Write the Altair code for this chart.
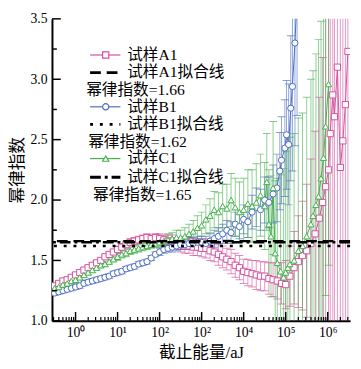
import altair as alt
import pandas as pd

# ---------------- data (log10 of cut-off energy in aJ, exponent, error) ----------------
a1_logE = [-0.5,-0.4,-0.3,-0.2,-0.1,0.0,0.1,0.2,0.3,0.4,0.5,0.6,0.7,0.8,0.9,
           1.0,1.1,1.2,1.3,1.4,1.5,1.6,1.7,1.8,1.9,
           2.0,2.1,2.2,2.3,2.4,2.5,2.6,2.7,2.8,2.9,
           3.0,3.1,3.2,3.3,3.4,3.5,3.6,3.7,3.8,3.9,
           4.0,4.1,4.2,4.3,4.4,4.5,4.6,4.7,4.8,4.9,
           5.0,5.1,5.2,5.3,5.4,5.5,5.6,5.7,5.8,
           5.88,5.95,6.02,6.06,6.12,6.16,6.23,6.30,6.36,6.42,6.48]
a1_val = [1.29,1.31,1.33,1.34,1.36,1.38,1.40,1.42,1.44,1.46,1.48,1.50,1.53,1.55,1.57,
          1.59,1.61,1.63,1.65,1.66,1.67,1.68,1.69,1.68,1.69,
          1.68,1.67,1.66,1.66,1.64,1.63,1.62,1.62,1.61,1.61,
          1.60,1.60,1.58,1.57,1.55,1.53,1.51,1.49,1.46,1.44,
          1.41,1.40,1.39,1.38,1.37,1.37,1.35,1.34,1.33,1.31,
          1.30,1.37,1.44,1.49,1.54,1.58,1.64,1.72,1.85,
          1.98,2.11,2.25,2.55,2.87,2.69,3.10,2.27,2.49,2.79,3.23]
a1_err = [0.02]*15 + [0.03]*10 + \
         [0.04,0.04,0.05,0.05,0.05,0.06,0.06,0.06,0.07,0.07] + \
         [0.07,0.08,0.08,0.08,0.09,0.09,0.09,0.10,0.10,0.10] + \
         [0.10,0.11,0.11,0.12,0.12,0.12,0.13,0.14,0.15,0.17] + \
         [0.20,0.25,0.30,0.38,0.45,0.55,0.70,0.85,1.00] + \
         [1.2,1.5,1.8,2.0,2.2,2.4,2.6,2.8,3.0,3.0,3.0]

b1_logE = [-0.5,-0.4,-0.3,-0.2,-0.1,0.0,0.1,0.2,0.3,0.4,0.5,0.6,0.7,0.8,0.9,
           1.0,1.1,1.2,1.3,1.4,1.5,1.6,1.7,1.8,1.9,
           2.0,2.1,2.2,2.3,2.4,2.5,2.6,2.7,2.8,2.9,
           3.0,3.1,3.2,3.3,3.4,3.5,3.6,3.7,3.8,3.9,
           4.0,4.1,4.2,4.3,4.4,4.5,4.6,4.7,
           4.79,4.86,4.90,4.98,5.02,5.07,5.12,5.16,5.22,5.27]
b1_val = [1.23,1.24,1.25,1.26,1.27,1.28,1.29,1.31,1.32,1.33,1.34,1.35,1.36,1.37,1.39,
          1.40,1.41,1.43,1.44,1.45,1.47,1.48,1.49,1.52,1.55,
          1.57,1.59,1.60,1.61,1.62,1.63,1.63,1.64,1.64,1.65,
          1.65,1.64,1.66,1.68,1.70,1.72,1.75,1.73,1.80,1.78,
          1.84,1.82,1.90,1.94,1.92,2.00,1.98,2.05,
          2.10,2.24,2.33,2.43,2.54,2.46,2.76,2.94,3.30,3.70]
b1_err = [0.02]*25 + \
         [0.03,0.03,0.03,0.04,0.04,0.04,0.04,0.05,0.05,0.05] + \
         [0.05,0.06,0.06,0.07,0.07,0.08,0.08,0.09,0.10,0.10] + \
         [0.12,0.13,0.14,0.16,0.17,0.19,0.21,0.24] + \
         [0.28,0.32,0.36,0.40,0.45,0.50,0.60,0.70,0.85,1.00]

c1_logE = [-0.5,-0.4,-0.3,-0.2,-0.1,0.0,0.1,0.2,0.3,0.4,0.5,0.6,0.7,0.8,0.9,
           1.0,1.1,1.2,1.3,1.4,1.5,1.6,1.7,1.8,1.9,
           2.0,2.1,2.2,2.3,2.4,2.5,2.6,2.7,2.8,2.9,
           3.0,3.1,3.2,3.3,3.4,3.5,3.6,3.7,3.8,3.9,
           4.0,4.1,4.2,4.3,4.4,4.5,
           4.55,4.60,4.65,4.70,4.75,4.80,4.88,4.95,5.00,5.05,5.10,5.20,5.30,5.40,
           5.50,5.60,5.65,5.72,5.78,5.84,5.90,5.95,6.02]
c1_val = [1.27,1.28,1.30,1.31,1.33,1.34,1.36,1.38,1.40,1.42,1.44,1.46,1.47,1.49,1.51,
          1.53,1.55,1.56,1.58,1.59,1.60,1.61,1.62,1.63,1.64,
          1.65,1.66,1.67,1.68,1.69,1.69,1.70,1.72,1.74,1.77,
          1.79,1.84,1.87,1.92,1.90,1.95,1.93,2.00,1.94,1.90,
          1.92,1.97,1.95,1.98,2.04,1.95,
          2.15,1.80,1.70,2.10,1.56,1.48,1.41,1.36,1.40,1.44,1.47,1.50,1.58,1.62,
          1.70,1.80,1.87,1.96,2.03,2.18,2.35,2.61,2.96]
c1_err = [0.02]*15 + [0.03]*10 + \
         [0.04,0.04,0.05,0.05,0.06,0.06,0.07,0.08,0.09,0.10] + \
         [0.11,0.12,0.14,0.15,0.16,0.18,0.20,0.22,0.24,0.25] + \
         [0.26,0.28,0.30,0.32,0.34,0.36] + \
         [0.40,0.45,0.50,0.55,0.60,0.70,0.80,0.90,1.00,1.00,1.05,1.05,1.10,1.10,
          1.15,1.20,1.20,1.25,1.30,1.30,1.35,1.40,1.50]

series_names = ["试样A1", "试样B1", "试样C1"]
series_colors = ["#d4509e", "#4a6cc0", "#45b04c"]
series_shapes = ["square", "circle", "triangle-up"]
fit_names = ["试样A1拟合线", "试样B1拟合线", "试样C1拟合线"]
fit_values = [1.66, 1.62, 1.65]
fit_texts = ["幂律指数=1.66", "幂律指数=1.62", "幂律指数=1.65"]
fit_dashes = [[11, 6], [3, 7], [11, 4, 3, 4]]

x_tick_labels = ["10⁰", "10¹", "10²", "10²", "10⁴", "10⁵", "10⁶"]
y_tick_values = [1.0, 1.5, 2.0, 2.5, 3.0, 3.5]
y_minor_values = [1.25, 1.75, 2.25, 2.75, 3.25]

# ---------------- build table ----------------
rows = []
for name, lx, vals, errs in zip(series_names,
                                [a1_logE, b1_logE, c1_logE],
                                [a1_val, b1_val, c1_val],
                                [a1_err, b1_err, c1_err]):
    for a, v, e in zip(lx, vals, errs):
        rows.append({"series": name, "E": 10 ** a, "idx": v, "lo": v - e, "hi": v + e})
df = pd.DataFrame(rows)

W, H = 305, 309
FONT = "Liberation Serif, Noto Sans CJK SC, serif"

xscale = alt.Scale(type="log", domain=[0.275, 3.4e6])
yscale = alt.Scale(domain=[1.0, 3.5], zero=False, nice=False)

label_arr = "[" + ",".join("'" + s + "'" for s in x_tick_labels) + "]"
xaxis = alt.Axis(values=[1, 10, 100, 1000, 10000, 100000, 1000000],
                 labelExpr=label_arr + "[round(log(datum.value)/LN10)]",
                 ticks=False, grid=False, domainColor="black", domainWidth=2,
                 labelFont=FONT, labelFontSize=14, labelColor="black", labelPadding=5,
                 title="截止能量/aJ", titleFont=FONT, titleFontSize=17,
                 titleFontWeight="normal", titleColor="black", titlePadding=6)
yaxis = alt.Axis(values=y_tick_values, format=".1f", ticks=False, grid=False,
                 domainColor="black", domainWidth=2,
                 labelFont=FONT, labelFontSize=14, labelColor="black", labelPadding=5,
                 title="幂律指数", titleFont=FONT, titleFontSize=17,
                 titleFontWeight="normal", titleColor="black", titlePadding=4)

color = alt.Color("series:N", scale=alt.Scale(domain=series_names, range=series_colors), legend=None)
X = alt.X("E:Q", scale=xscale, axis=xaxis)

base = alt.Chart(df)
err_rules = base.mark_rule(strokeWidth=1, opacity=0.6, clip=True).encode(
    x=X, y=alt.Y("lo:Q", scale=yscale, axis=yaxis), y2="hi:Q", color=color)
cap_lo = base.mark_tick(orient="horizontal", size=8, thickness=1, opacity=0.65, clip=True).encode(
    x=X, y=alt.Y("lo:Q", scale=yscale, axis=yaxis), color=color)
cap_hi = base.mark_tick(orient="horizontal", size=8, thickness=1, opacity=0.65, clip=True).encode(
    x=X, y=alt.Y("hi:Q", scale=yscale, axis=yaxis), color=color)
lines = base.mark_line(strokeWidth=1, clip=True).encode(
    x=X, y=alt.Y("idx:Q", scale=yscale, axis=yaxis), color=color, detail="series:N")
points = base.mark_point(filled=False, fill="white", fillOpacity=1, strokeWidth=1,
                         size=40, clip=True).encode(
    x=X, y=alt.Y("idx:Q", scale=yscale, axis=yaxis), color=color,
    shape=alt.Shape("series:N", scale=alt.Scale(domain=series_names, range=series_shapes), legend=None))

layers = [err_rules, cap_lo, cap_hi, lines, points]

# fitted lines
for v, d in zip(fit_values, fit_dashes):
    layers.append(alt.Chart(pd.DataFrame({"v": [v]})).mark_rule(
        color="black", strokeWidth=2.5, strokeDash=d).encode(
        y=alt.Y("v:Q", scale=yscale, axis=yaxis)))

# inward axis ticks
x_major = [10.0 ** k for k in range(0, 7)]
x_minor = [m * 10.0 ** k for k in range(-1, 7) for m in range(2, 10)
           if 0.275 <= m * 10.0 ** k <= 3.4e6]
layers.append(alt.Chart(pd.DataFrame({"E": x_major})).mark_rule(color="black", strokeWidth=1.5).encode(
    x=alt.X("E:Q", scale=xscale, axis=xaxis), y=alt.value(H), y2=alt.value(H - 9)))
layers.append(alt.Chart(pd.DataFrame({"E": x_minor})).mark_rule(color="black", strokeWidth=1.2).encode(
    x=alt.X("E:Q", scale=xscale, axis=xaxis), y=alt.value(H), y2=alt.value(H - 4)))
layers.append(alt.Chart(pd.DataFrame({"v": y_tick_values})).mark_rule(color="black", strokeWidth=1.5).encode(
    y=alt.Y("v:Q", scale=yscale, axis=yaxis), x=alt.value(0), x2=alt.value(9)))
layers.append(alt.Chart(pd.DataFrame({"v": y_minor_values})).mark_rule(color="black", strokeWidth=1.5).encode(
    y=alt.Y("v:Q", scale=yscale, axis=yaxis), x=alt.value(0), x2=alt.value(5)))

# custom legend inside the plot
one = pd.DataFrame({"k": [0]})
row_y = [37, 55, 73, 90, 108, 126, 143, 162, 180]
txt_x = [35, 37, 42]
for i in range(3):
    ys, yf, yt = row_y[3 * i], row_y[3 * i + 1], row_y[3 * i + 2]
    layers.append(alt.Chart(one).mark_rule(color=series_colors[i], strokeWidth=1.2).encode(
        x=alt.value(39), x2=alt.value(70), y=alt.value(ys)))
    layers.append(alt.Chart(one).mark_point(filled=False, fill="white", fillOpacity=1,
                                            color=series_colors[i], strokeWidth=1.2, size=40,
                                            shape=series_shapes[i]).encode(
        x=alt.value(55), y=alt.value(ys)))
    layers.append(alt.Chart(pd.DataFrame({"t": [series_names[i]]})).mark_text(
        align="left", baseline="middle", font=FONT, fontSize=16, color="black").encode(
        x=alt.value(77), y=alt.value(ys), text="t:N"))
    layers.append(alt.Chart(one).mark_rule(color="black", strokeWidth=3, strokeDash=fit_dashes[i]).encode(
        x=alt.value(39), x2=alt.value(70), y=alt.value(yf)))
    layers.append(alt.Chart(pd.DataFrame({"t": [fit_names[i]]})).mark_text(
        align="left", baseline="middle", font=FONT, fontSize=16, color="black").encode(
        x=alt.value(77), y=alt.value(yf), text="t:N"))
    layers.append(alt.Chart(pd.DataFrame({"t": [fit_texts[i]]})).mark_text(
        align="left", baseline="middle", font=FONT, fontSize=16, color="black").encode(
        x=alt.value(txt_x[i]), y=alt.value(yt), text="t:N"))

chart = alt.layer(*layers).properties(
    width=W, height=H,
    autosize=alt.AutoSizeParams(type="none"),
    padding={"left": 45, "top": 7, "right": 3, "bottom": 37},
    background="white",
).configure_view(strokeWidth=0)

chart.save("out.html", embed_options={"renderer": "svg", "actions": False})
